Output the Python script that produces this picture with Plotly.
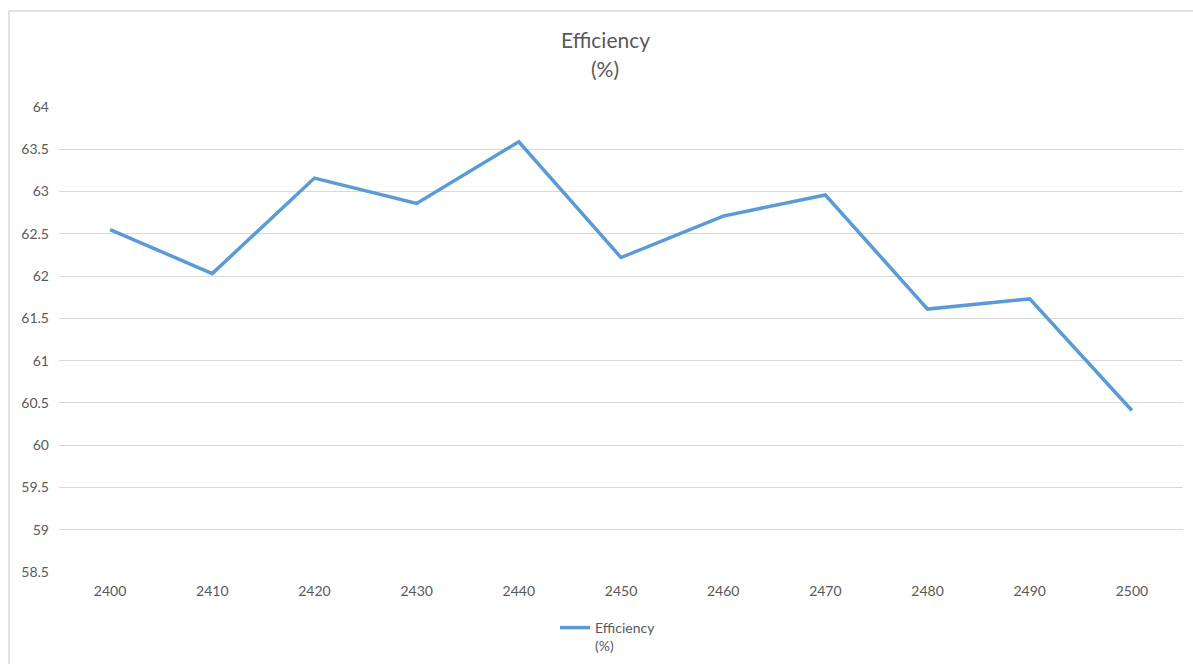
import plotly.graph_objects as go

# Frequency points (category axis) and measured efficiency
frequencies = ["2400", "2410", "2420", "2430", "2440", "2450",
               "2460", "2470", "2480", "2490", "2500"]
efficiency = [62.55, 62.03, 63.16, 62.86, 63.59, 62.22,
              62.71, 62.96, 61.61, 61.73, 60.41]
y_ticks = [58.5, 59, 59.5, 60, 60.5, 61, 61.5, 62, 62.5, 63, 63.5, 64]
y_tick_text = ["58.5", "59", "59.5", "60", "60.5", "61",
               "61.5", "62", "62.5", "63", "63.5", "64"]

W, H = 1193, 664
L, R, T, B = 59, 10, 107, 92
plot_h = H - T - B
plot_w = W - L - R


def px_to_paper_y(py):
    return (H - B - py) / plot_h


def px_to_paper_x(px):
    return (px - L) / plot_w


TEXT = "#595959"
GRID = "#d9d9d9"
FONT = "Lato"
EPS = 0.0008  # keeps the 58.5 and 64 gridlines inside the range

fig = go.Figure()
fig.add_trace(go.Scatter(
    x=frequencies,
    y=efficiency,
    mode="lines",
    name="Efficiency<br>(%)",
    line=dict(color="#5b9bd5", width=3.5),
))

fig.update_layout(
    width=W, height=H, autosize=False,
    margin=dict(l=L, r=R, t=T, b=B, autoexpand=False),
    paper_bgcolor="white",
    plot_bgcolor="white",
    font=dict(family=FONT, color=TEXT, size=13),
    showlegend=True,
    legend=dict(
        orientation="h",
        x=px_to_paper_x(608), xanchor="center",
        y=px_to_paper_y(612), yanchor="top",
        valign="top",
        font=dict(family=FONT, size=14, color=TEXT),
        bgcolor="rgba(0,0,0,0)",
    ),
    xaxis=dict(
        type="category",
        range=[-0.5, len(frequencies) - 0.5],
        automargin=False,
        showgrid=False,
        showline=False,
        zeroline=False,
        ticks="",
        tickfont=dict(family=FONT, size=14, color=TEXT),
        ticklabelstandoff=9,
    ),
    yaxis=dict(
        range=[58.5 - EPS, 64 + EPS],
        automargin=False,
        tickvals=y_ticks,
        ticktext=y_tick_text,
        showgrid=True,
        gridcolor=GRID,
        gridwidth=1,
        zeroline=False,
        showline=False,
        ticks="",
        tickfont=dict(family=FONT, size=14, color=TEXT),
        ticklabelstandoff=9,
    ),
    annotations=[
        dict(text="Efficiency", xref="paper", yref="paper",
             x=px_to_paper_x(605), y=px_to_paper_y(39),
             xanchor="center", yanchor="middle", showarrow=False,
             font=dict(family=FONT, size=21, color=TEXT)),
        dict(text="(%)", xref="paper", yref="paper",
             x=px_to_paper_x(605), y=px_to_paper_y(69),
             xanchor="center", yanchor="middle", showarrow=False,
             font=dict(family=FONT, size=21, color=TEXT)),
    ],
    shapes=[
        # chart frame: top and left edges
        dict(type="line", xref="paper", yref="paper",
             x0=px_to_paper_x(9), x1=px_to_paper_x(W + 5),
             y0=px_to_paper_y(11), y1=px_to_paper_y(11),
             line=dict(color=GRID, width=1.5)),
        dict(type="line", xref="paper", yref="paper",
             x0=px_to_paper_x(9), x1=px_to_paper_x(9),
             y0=px_to_paper_y(11), y1=px_to_paper_y(H + 5),
             line=dict(color=GRID, width=1.5)),
    ],
)

fig.write_html("out.html")
